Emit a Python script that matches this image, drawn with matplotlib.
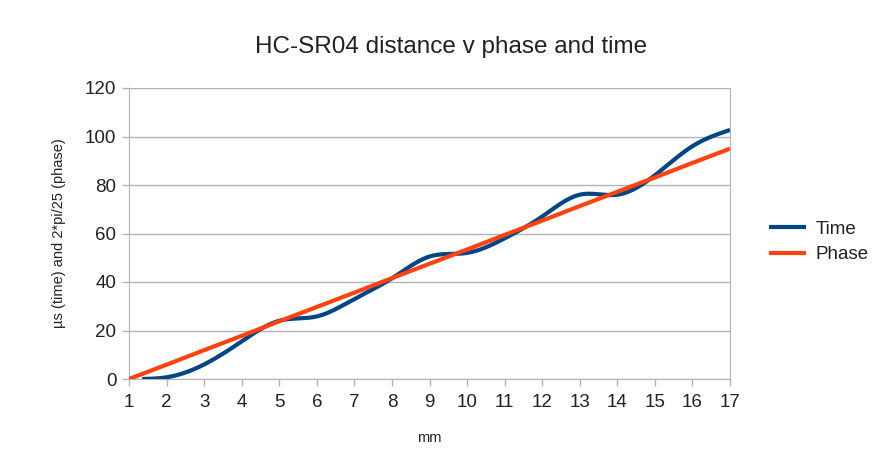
import numpy as np
import matplotlib
matplotlib.use("Agg")
import matplotlib.pyplot as plt

plt.rcParams['font.family'] = ['Liberation Sans', 'DejaVu Sans']

mm = list(range(1, 18))
time_x = [1.35] + list(range(2, 18))
time_us = [0, 0.7, 6, 15.5, 24, 25.8, 33, 41.5, 50.5, 52, 58, 67, 76, 76, 84, 96, 102.7]
phase = [0, 5.9, 11.9, 17.8, 23.8, 29.7, 35.6, 41.6, 47.5, 53.4, 59.4, 65.3, 71.3, 77.2, 83.1, 89.1, 95]
xticks = list(range(1, 18))
yticks = [0, 20, 40, 60, 80, 100, 120]


def natural_spline(x, y, n=600):
    x = np.asarray(x, float)
    y = np.asarray(y, float)
    N = len(x)
    h = np.diff(x)
    A = np.zeros((N, N))
    b = np.zeros(N)
    A[0, 0] = 1
    A[-1, -1] = 1
    for i in range(1, N - 1):
        A[i, i - 1] = h[i - 1]
        A[i, i] = 2 * (h[i - 1] + h[i])
        A[i, i + 1] = h[i]
        b[i] = 3 * ((y[i + 1] - y[i]) / h[i] - (y[i] - y[i - 1]) / h[i - 1])
    c = np.linalg.solve(A, b)
    bb = (y[1:] - y[:-1]) / h - h * (2 * c[:-1] + c[1:]) / 3
    d = (c[1:] - c[:-1]) / (3 * h)
    xs = np.linspace(x[0], x[-1], n)
    idx = np.clip(np.searchsorted(x, xs) - 1, 0, N - 2)
    dx = xs - x[idx]
    ys = y[idx] + bb[idx] * dx + c[idx] * dx ** 2 + d[idx] * dx ** 3
    return xs, ys


fig = plt.figure(figsize=(8.75, 4.66), dpi=100)
fig.patch.set_facecolor('white')
ax = fig.add_axes([129 / 875, 1 - 379 / 466, (730 - 129) / 875, (379 - 88) / 466])

xs, ys = natural_spline(time_x, time_us)
ax.plot(xs, ys, color='#004586', lw=3, label='Time', solid_capstyle='butt', zorder=3)
ax.plot(mm, phase, color='#ff420e', lw=3, label='Phase', solid_capstyle='butt', zorder=4)

ax.set_xlim(1, 17)
ax.set_ylim(0, 120)
ax.set_xticks(xticks)
ax.set_yticks(yticks)
ax.yaxis.grid(True, color='#b3b3b3', lw=1)
ax.set_axisbelow(True)
for s in ['left', 'bottom', 'right']:
    ax.spines[s].set_color('#b3b3b3')
ax.spines['top'].set_visible(False)
ax.tick_params(axis='both', colors='#b3b3b3', labelcolor='#222222', labelsize=13.5, length=5, width=1)
ax.tick_params(axis='x', pad=6)
ax.tick_params(axis='y', pad=4)

fig.text(451 / 875, 1 - 47 / 466, 'HC-SR04 distance v phase and time', fontsize=17.5,
         color='#222222', ha='center', va='center')
ax.set_xlabel('mm', fontsize=10.5, color='#222222', labelpad=14)
ax.set_ylabel('µs (time) and 2*pi/25 (phase)', fontsize=10.5, color='#222222', labelpad=14)

leg = fig.legend(loc='center left', bbox_to_anchor=(752 / 875, 1 - 242 / 466), frameon=False,
                 fontsize=13.5, handlelength=2.0, handletextpad=0.5, labelspacing=0.45)
for t in leg.get_texts():
    t.set_color('#222222')

fig.savefig('out.png', dpi=100, facecolor='white')
